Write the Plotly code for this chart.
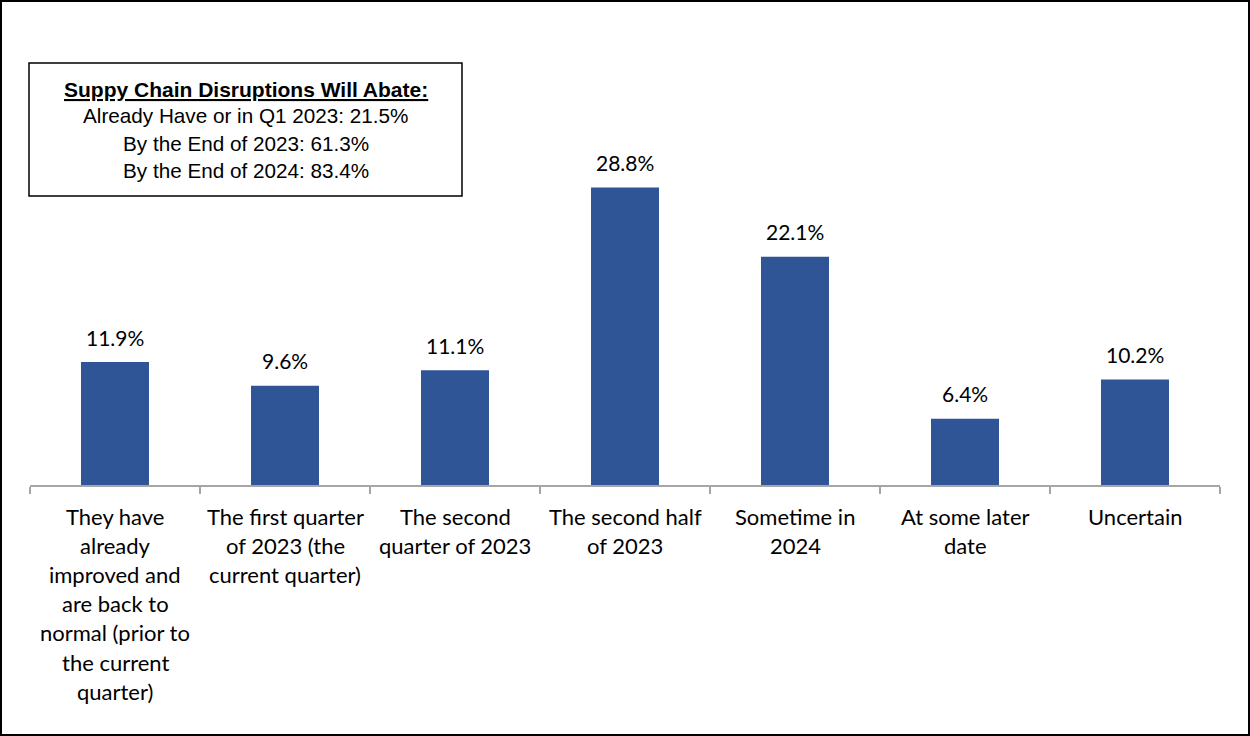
import plotly.graph_objects as go

# Survey categories and share of respondents (%)
categories = [
    "They have<br>already<br>improved and<br>are back to<br>normal (prior to<br>the current<br>quarter)",
    "The first quarter<br>of 2023 (the<br>current quarter)",
    "The second<br>quarter of 2023",
    "The second half<br>of 2023",
    "Sometime in<br>2024",
    "At some later<br>date",
    "Uncertain",
]
values = [11.9, 9.6, 11.1, 28.8, 22.1, 6.4, 10.2]

box_title = "Suppy Chain Disruptions Will Abate:"
box_lines = [
    "Already Have or in Q1 2023: 21.5%",
    "By the End of 2023: 61.3%",
    "By the End of 2024: 83.4%",
]

W, H = 1250, 736
ML, MR, MT, MB = 30, 30, 175, 251
PW, PH = W - ML - MR, H - MT - MB
BAR_COLOR = "#2F5597"
AXIS_COLOR = "#A6A6A6"
LABEL_FONT = "Lato"
BOX_FONT = "Liberation Sans"


def px_x(px):
    return (px - ML) / PW


def px_y(py):
    return (H - MB - py) / PH


xs = list(range(len(categories)))

fig = go.Figure(
    go.Bar(
        x=xs,
        y=values,
        width=0.4,
        marker=dict(color=BAR_COLOR, line=dict(width=0)),
        hoverinfo="skip",
    )
)

annotations = []

# value labels above the bars
for x, v in zip(xs, values):
    annotations.append(dict(
        x=x, y=v, xref="x", yref="y", text=f"{v:.1f}%",
        showarrow=False, yanchor="middle", yshift=25,
        font=dict(family=LABEL_FONT, size=21, color="#000000"),
    ))

# category labels, one annotation per wrapped line
LINE_START, LINE_STEP = 516, 29.2
for x, label in zip(xs, categories):
    for i, line in enumerate(label.split("<br>")):
        annotations.append(dict(
            x=x, y=px_y(LINE_START + i * LINE_STEP), xref="x", yref="paper",
            text=line, showarrow=False, yanchor="middle", xanchor="center",
            font=dict(family=LABEL_FONT, size=22, color="#000000"),
        ))

# summary text box
BOX_X0, BOX_X1, BOX_Y0, BOX_Y1 = 29, 462, 63, 196
box_cx = (BOX_X0 + BOX_X1) / 2
annotations.append(dict(
    x=px_x(box_cx), y=px_y(89), xref="paper", yref="paper",
    text=f"<b><u>{box_title}</u></b>", showarrow=False,
    xanchor="center", yanchor="middle",
    font=dict(family=BOX_FONT, size=21, color="#000000"),
))
for i, line in enumerate(box_lines):
    annotations.append(dict(
        x=px_x(box_cx), y=px_y(116 + 27 * i), xref="paper", yref="paper",
        text=line, showarrow=False, xanchor="center", yanchor="middle",
        font=dict(family=BOX_FONT, size=20.7, color="#000000"),
    ))

shapes = [
    # outer frame
    dict(type="rect", xref="paper", yref="paper",
         x0=px_x(1), x1=px_x(W - 1), y0=px_y(H - 1), y1=px_y(1),
         line=dict(color="#000000", width=2), fillcolor="rgba(0,0,0,0)"),
    # text box frame
    dict(type="rect", xref="paper", yref="paper",
         x0=px_x(BOX_X0), x1=px_x(BOX_X1), y0=px_y(BOX_Y1), y1=px_y(BOX_Y0),
         line=dict(color="#000000", width=1.5), fillcolor="#FFFFFF"),
]

fig.update_layout(
    width=W, height=H,
    margin=dict(l=ML, r=MR, t=MT, b=MB),
    paper_bgcolor="#FFFFFF",
    plot_bgcolor="#FFFFFF",
    showlegend=False,
    annotations=annotations,
    shapes=shapes,
    xaxis=dict(
        range=[-0.5, len(categories) - 0.5],
        tickmode="array",
        tickvals=[i - 0.5 for i in range(len(categories) + 1)],
        showticklabels=False,
        ticks="outside", ticklen=7, tickcolor=AXIS_COLOR, tickwidth=1.5,
        showline=True, linecolor=AXIS_COLOR, linewidth=1.5,
        showgrid=False, zeroline=False, fixedrange=True,
    ),
    yaxis=dict(
        range=[0, 30],
        visible=False,
        showgrid=False, zeroline=False, fixedrange=True,
    ),
)

fig.write_html("out.html")
